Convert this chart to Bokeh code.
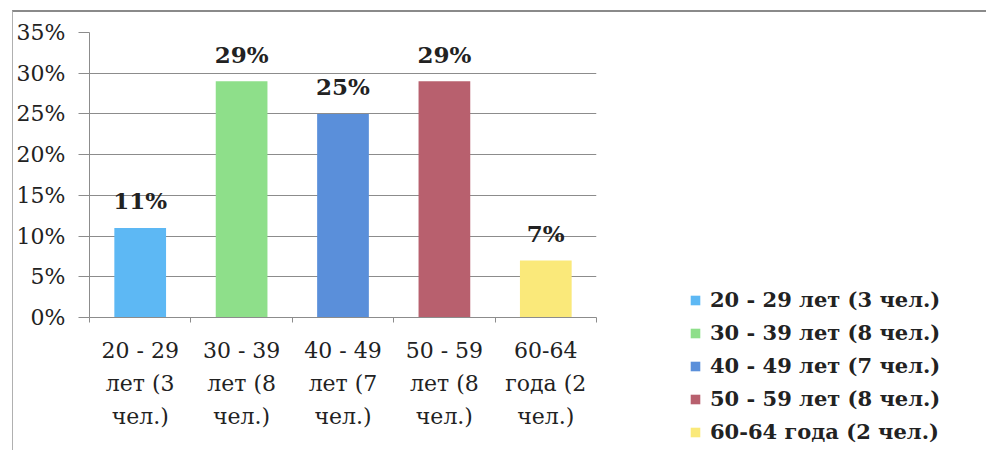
from bokeh.plotting import figure
from bokeh.models import ColumnDataSource, FixedTicker, NumeralTickFormatter, Range1d, Legend, LegendItem
from bokeh.core.properties import value
from bokeh.embed import file_html
from bokeh.resources import INLINE

# ---- data ----
categories = ["20 - 29 лет (3 чел.)", "30 - 39 лет (8 чел.)", "40 - 49 лет (7 чел.)",
              "50 - 59 лет (8 чел.)", "60-64 года (2 чел.)"]
axis_labels = ["20 - 29\nлет (3\nчел.)", "30 - 39\nлет (8\nчел.)", "40 - 49\nлет (7\nчел.)",
               "50 - 59\nлет (8\nчел.)", "60-64\nгода (2\nчел.)"]
shares = [0.11, 0.29, 0.25, 0.29, 0.07]
bar_colors = ["#5DB8F4", "#8EDF8A", "#5A8FDA", "#B8606E", "#FAE97A"]
y_ticks = [0.0, 0.05, 0.10, 0.15, 0.20, 0.25, 0.30, 0.35]

centers = [i + 0.5 for i in range(len(categories))]
bounds = [i for i in range(len(categories) + 1)]
src = ColumnDataSource(dict(
    x=centers, top=shares, color=bar_colors, legend=categories,
    label=[f"{round(v * 100)}%" for v in shares],
))

SERIF = "DejaVu Serif"
TXT = "#222222"
GRID = "#8c8c8c"

p = figure(frame_width=507, frame_height=285, output_backend="svg", toolbar_location=None,
           x_range=Range1d(0, len(categories)), y_range=Range1d(0, 0.35),
           min_border_left=75, min_border_right=0, min_border_top=20, min_border_bottom=133)
p.outline_line_color = None
p.styles = {"margin-left": "12px", "margin-top": "10px", "padding-right": "38px",
            "border-top": "2px solid #8a8a8a", "border-left": "1px solid #b0b0b0"}

r = p.vbar(x="x", top="top", width=0.51, color="color", line_color=None, source=src)
p.text(x="x", y="top", text="label", source=src, text_align="center", text_baseline="middle",
       y_offset=-27, text_font=value(SERIF), text_font_style="bold", text_font_size="23px",
       text_color=TXT)

# y axis
p.yaxis.ticker = FixedTicker(ticks=y_ticks)
p.yaxis.formatter = NumeralTickFormatter(format="0%")
p.yaxis.major_label_text_font = SERIF
p.yaxis.major_label_text_font_size = "22px"
p.yaxis.major_label_text_color = TXT
p.yaxis.axis_line_color = GRID
p.yaxis.major_tick_line_color = GRID
p.yaxis.major_tick_in = 0
p.yaxis.major_tick_out = 11
p.yaxis.minor_tick_line_color = None
p.yaxis.major_label_standoff = 13

# x axis
p.xaxis.ticker = FixedTicker(ticks=centers, minor_ticks=bounds)
p.xaxis.major_label_overrides = {c: t for c, t in zip(centers, axis_labels)}
p.xaxis.major_label_text_font = SERIF
p.xaxis.major_label_text_font_size = "22px"
p.xaxis.major_label_text_color = TXT
p.xaxis.major_label_text_line_height = 1.33
p.xaxis.axis_line_color = GRID
p.xaxis.major_tick_line_color = None
p.xaxis.minor_tick_line_color = GRID
p.xaxis.minor_tick_in = 0
p.xaxis.minor_tick_out = 5
p.xaxis.major_label_standoff = 14

p.xgrid.grid_line_color = None
p.ygrid.ticker = FixedTicker(ticks=y_ticks)
p.ygrid.grid_line_color = GRID
p.ygrid.grid_line_width = 1.2

items = [LegendItem(label=c, renderers=[r], index=i) for i, c in enumerate(categories)]
legend = Legend(items=items, location=(93, -131), orientation="vertical",
                padding=0, margin=0, spacing=0, border_line_color=None,
                background_fill_alpha=0, glyph_width=12, glyph_height=12,
                label_height=33, label_standoff=9,
                label_text_font=SERIF, label_text_font_style="bold",
                label_text_font_size="21px", label_text_color=TXT)
p.add_layout(legend, "right")

open("out.html", "w").write(file_html(p, INLINE))
